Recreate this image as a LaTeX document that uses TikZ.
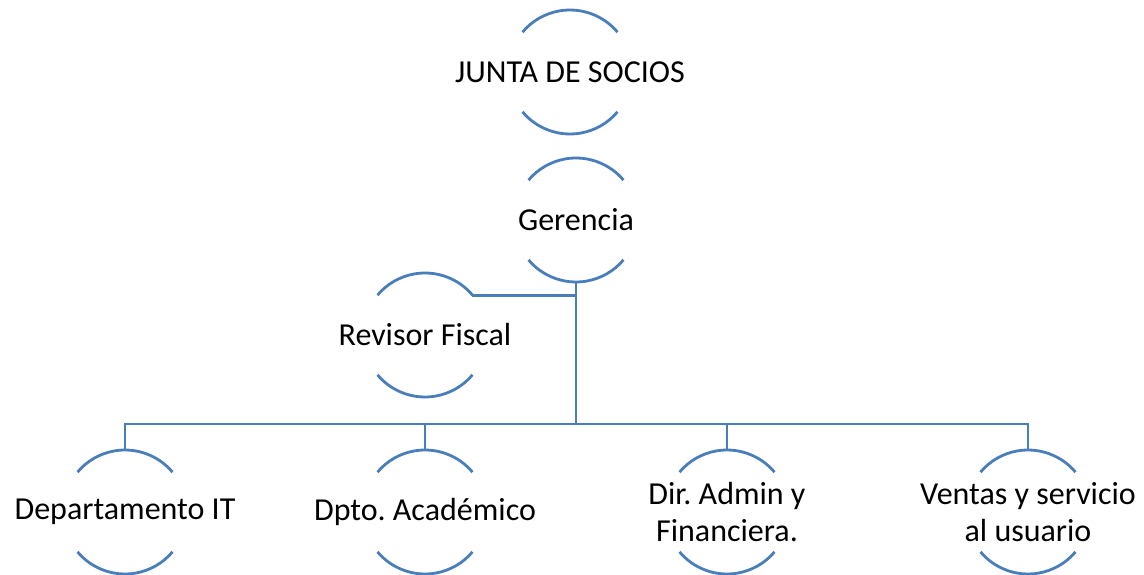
\documentclass[tikz,border=0pt]{standalone}
\usepackage{fontspec}
\setmainfont{Carlito}
\usetikzlibrary{positioning,calc}
\definecolor{orgblue}{RGB}{74,126,187}
\frenchspacing

\tikzset{
  unit/.style={circle,minimum size=124pt,inner sep=0pt,outer sep=0pt,draw=none},
  unittext/.style={align=center,inner sep=0pt,font=\fontsize{32}{37}\selectfont},
  arcline/.style={draw=orgblue,line width=2.8pt},
  link/.style={draw=orgblue,line width=2.8pt}
}

\begin{document}
\begin{tikzpicture}[x=1pt,y=-1pt]
    \useasboundingbox (0,0) rectangle (1144,575);
    % niveles de arriba
    \node[unit] (junta) at (570,72) {};
    \node[unit] (geren) at (576,220) {};
    \node[unit] (revisor) at (425,335) {};
    % departamentos
    \node[unit] (depit) at (125,512) {};
    \node[unit] (depacad) at (425,512) {};
    \node[unit] (diradm) at (727,512) {};
    \node[unit] (ventas) at (1028,512) {};

    \node[unittext] (juntatxt) at (junta) {JUNTA DE SOCIOS};
    \node[unittext] (gerentxt) at (geren) {Gerencia};
    \node[unittext] (revisortxt) at (revisor) {Revisor Fiscal};
    \node[unittext] (depittxt) at (depit) {Departamento IT};
    \node[unittext] (depacadtxt) at (depacad) {Dpto. Académico};
    \node[unittext] (diradmtxt) at (diradm) {Dir. Admin y\\Financiera.};
    \node[unittext] (ventastxt) at (ventas) {Ventas y servicio\\al usuario};

    \foreach \n in {junta,geren,revisor,depit,depacad,diradm,ventas}
        \draw[arcline] (\n.40) arc[start angle=40,end angle=140,radius=62pt]
                       (\n.220) arc[start angle=220,end angle=320,radius=62pt];

    \coordinate (bus) at (576,424);
    \draw[link] (geren.south) -- (bus);
    \draw[link] (revisor.40) -| (geren.south);
    \foreach \d in {depit,depacad,diradm,ventas}
        \draw[link] (bus) -| (\d.north);
\end{tikzpicture}
\end{document}
